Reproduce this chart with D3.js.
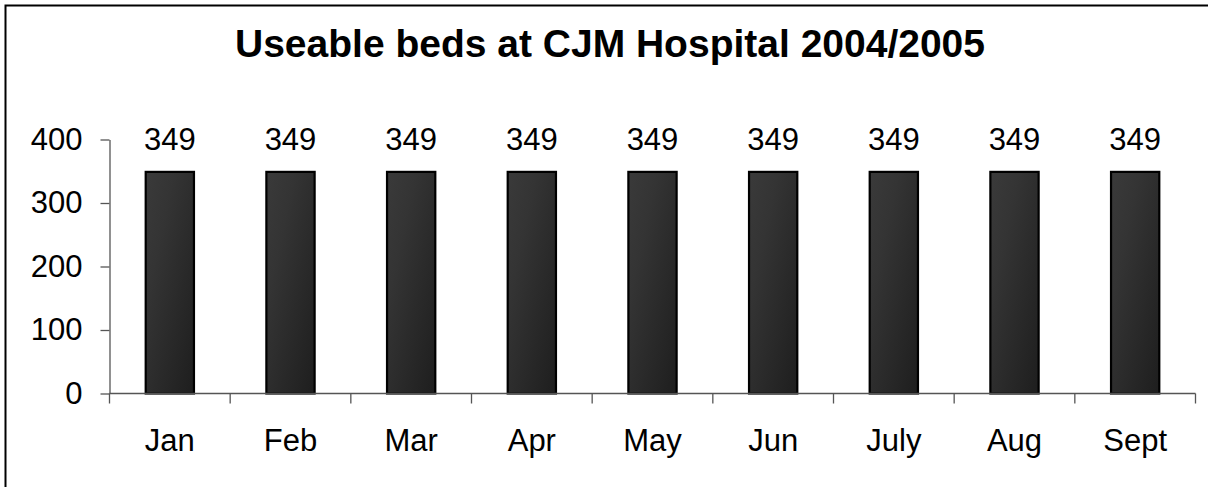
<html>
<head>
<meta charset="utf-8">
<style>
  body{margin:0;background:#fff;overflow:hidden;}
  svg{display:block;}
  text{font-family:"Liberation Sans",Arial,sans-serif;fill:#000;}
</style>
</head>
<body>
<svg width="1208" height="487"></svg>
<script src="https://d3js.org/d3.v7.min.js"></script>
<script>
// chart data
var months = ["Jan","Feb","Mar","Apr","May","Jun","July","Aug","Sept"];
var beds = [349,349,349,349,349,349,349,349,349];
var yTicks = [0,100,200,300,400];
var title = "Useable beds at CJM Hospital 2004/2005";

var svg = d3.select("svg");

// outer frame: only left and top edges are inside the view
svg.append("path")
  .attr("d","M5.5,487V5.5H1208")
  .attr("fill","none").attr("stroke","#000").attr("stroke-width",2);

var defs = svg.append("defs");
var grad = defs.append("linearGradient")
  .attr("id","barGrad")
  .attr("x1","0").attr("y1","0").attr("x2","1").attr("y2","1");
grad.append("stop").attr("offset","0%").attr("stop-color","#3a3a3a");
grad.append("stop").attr("offset","30%").attr("stop-color","#343434");
grad.append("stop").attr("offset","100%").attr("stop-color","#1e1e1e");

var x = d3.scaleBand()
  .domain(months)
  .range([109.5,1195.5])
  .padding(0);

var y = d3.scaleLinear()
  .domain([0,400])
  .range([393.5,139.5]);

svg.append("text")
  .attr("x",610).attr("y",57)
  .attr("text-anchor","middle")
  .style("font-size","39px").style("font-weight","bold")
  .text(title);

// y axis
var yAxis = svg.append("g")
  .attr("transform","translate(109.5,0)")
  .call(d3.axisLeft(y).tickValues(yTicks).tickSize(9).tickSizeOuter(0).tickPadding(18));
yAxis.select(".domain").attr("stroke","#555").attr("stroke-width",1.3);
yAxis.selectAll(".tick line").attr("stroke","#555").attr("stroke-width",1.3);
yAxis.selectAll(".tick text")
  .style("font-size","31px")
  .attr("fill","#000")
  .attr("font-family","Liberation Sans, Arial, sans-serif");

// bars
var barW = x.bandwidth()*0.4;
svg.selectAll("rect.bar")
  .data(beds)
  .enter().append("rect")
  .attr("class","bar")
  .attr("x",function(d,i){return x(months[i]) + (x.bandwidth()-barW)/2;})
  .attr("y",function(d){return y(d);})
  .attr("width",barW)
  .attr("height",function(d){return y(0)-y(d);})
  .attr("fill","url(#barGrad)")
  .attr("stroke","#000")
  .attr("stroke-width",2.2);

// value labels
svg.selectAll("text.val")
  .data(beds)
  .enter().append("text")
  .attr("class","val")
  .attr("x",function(d,i){return x(months[i]) + x.bandwidth()/2;})
  .attr("y",function(d){return y(d)-22;})
  .attr("text-anchor","middle")
  .style("font-size","31px")
  .text(function(d){return d;});

// x axis: line, ticks at band edges, labels at centres
var xAxis = svg.append("g");
xAxis.append("line")
  .attr("x1",x.range()[0]).attr("x2",x.range()[1])
  .attr("y1",y(0)).attr("y2",y(0))
  .attr("stroke","#555").attr("stroke-width",1.3);
var edges = months.map(function(m){return x(m);}).concat([x.range()[1]]);
xAxis.selectAll("line.tk")
  .data(edges)
  .enter().append("line")
  .attr("class","tk")
  .attr("x1",function(d){return d;}).attr("x2",function(d){return d;})
  .attr("y1",y(0)).attr("y2",y(0)+10)
  .attr("stroke","#555").attr("stroke-width",1.3);
xAxis.selectAll("text")
  .data(months)
  .enter().append("text")
  .attr("x",function(d){return x(d)+x.bandwidth()/2;})
  .attr("y",451)
  .attr("text-anchor","middle")
  .style("font-size","31px")
  .text(function(d){return d;});
</script>
</body>
</html>
